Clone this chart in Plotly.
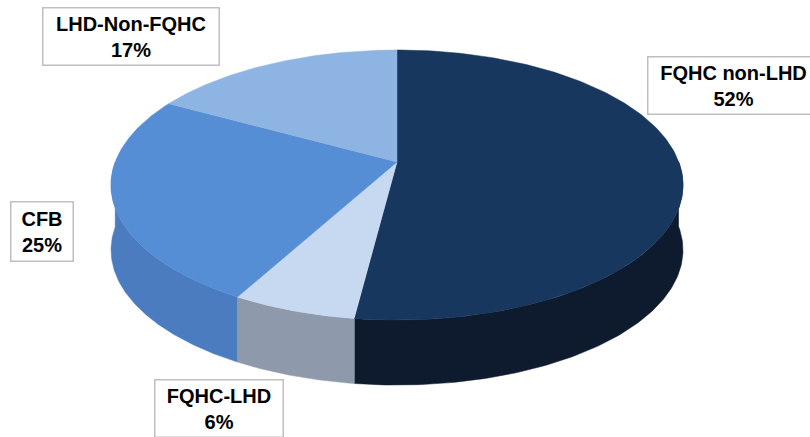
import numpy as np
import plotly.graph_objects as go

# ---- data ----
labels = ["FQHC non-LHD", "FQHC-LHD", "CFB", "LHD-Non-FQHC"]
values = [52, 6, 25, 17]
top_colors = ["#17375E", "#C6D9F1", "#558ED5", "#8EB4E3"]
side_colors = ["#0E1B2E", "#8E9AAB", "#4A7CBF", "#7A9DC9"]

# ---- geometry / style ----
W, H = 810, 437
CX, CY0 = 397, 162          # projected centre of the pie top
A, B, E = 281.8, 103.5, -0.1704
DEPTH = 65


def rim(theta_deg):
    t = np.radians(theta_deg)
    u = np.sin(t)
    v = -np.cos(t)
    d = 1 + E * v
    return CX + A * u / d, (B * v + CY0) / d


fig = go.Figure()

total = float(sum(values))
bounds = np.concatenate([[0.0], np.cumsum(values) / total * 360.0])

# side walls (front half only)
for i, lab in enumerate(labels):
    a0, a1 = bounds[i], bounds[i + 1]
    lo, hi = max(a0, 90.0), min(a1, 270.0)
    if hi <= lo:
        continue
    th = np.linspace(lo, hi, 120)
    x, y = rim(th)
    px = np.concatenate([x, x[::-1]])
    py = np.concatenate([y, (y + DEPTH)[::-1]])
    fig.add_trace(go.Scatter(x=px, y=py, mode="lines", fill="toself",
                             fillcolor=side_colors[i],
                             line=dict(color=side_colors[i], width=0.5),
                             hoverinfo="skip", showlegend=False))

# top faces
for i, lab in enumerate(labels):
    a0, a1 = bounds[i], bounds[i + 1]
    th = np.linspace(a0, a1, 200)
    x, y = rim(th)
    px = np.concatenate([[CX], x, [CX]])
    py = np.concatenate([[CY0], y, [CY0]])
    fig.add_trace(go.Scatter(x=px, y=py, mode="lines", fill="toself",
                             fillcolor=top_colors[i],
                             line=dict(color=top_colors[i], width=0.5),
                             hoverinfo="skip", showlegend=False, name=lab))

# label boxes: (centre x, centre y, width, height)
boxes = {
    "FQHC non-LHD": (733, 85, 170, 56),
    "FQHC-LHD": (218.5, 408, 127, 56),
    "CFB": (41.5, 231, 61, 58),
    "LHD-Non-FQHC": (130.5, 36, 175, 56),
}
for lab, val in zip(labels, values):
    bx, by, bw, bh = boxes[lab]
    fig.add_annotation(x=bx, y=by, xref="x", yref="y",
                       text=f"<b>{lab}</b><br><b>{val}%</b>",
                       showarrow=False, xanchor="center", yanchor="middle",
                       width=bw, height=bh, borderpad=0,
                       bgcolor="white", bordercolor="#BFBFBF", borderwidth=1.5,
                       font=dict(family="Liberation Sans, Arial, sans-serif",
                                 size=20, color="black"),
                       align="center", valign="middle")

fig.update_layout(
    width=W, height=H,
    margin=dict(l=0, r=0, t=0, b=0),
    paper_bgcolor="white", plot_bgcolor="white",
    xaxis=dict(range=[0, W], visible=False, fixedrange=True),
    yaxis=dict(range=[H, 0], visible=False, fixedrange=True),
    showlegend=False,
)

fig.write_html("out.html")
